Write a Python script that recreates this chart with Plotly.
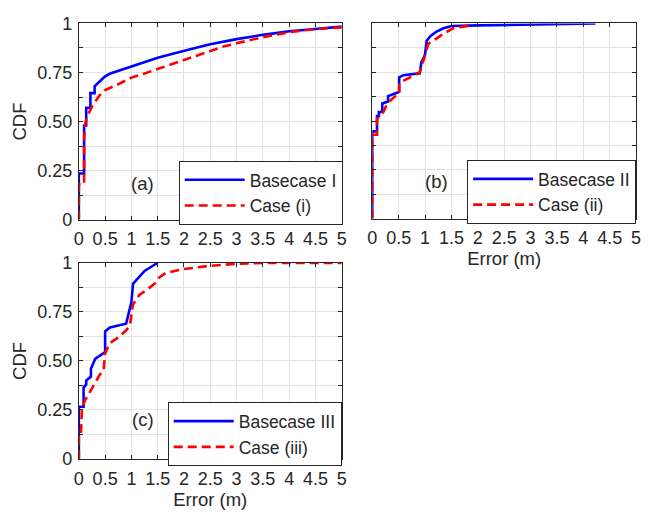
import plotly.graph_objects as go

# ---- CDF curves (error in metres, cumulative probability) ----
# (a) Basecase I vs Case (i)
a_base_x = [0, 0, 0.1, 0.1, 0.14, 0.14, 0.22, 0.22, 0.3, 0.3, 0.4, 0.5, 0.6, 0.75, 1.0,
            1.25, 1.5, 1.75, 2.0, 2.25, 2.5, 2.75, 3.0, 3.5, 4.0, 4.5, 5.0]
a_base_y = [0, 0.235, 0.235, 0.48, 0.48, 0.57, 0.57, 0.645, 0.645, 0.68, 0.705, 0.73, 0.745,
            0.758, 0.782, 0.803, 0.825, 0.843, 0.862, 0.878, 0.894, 0.907, 0.92, 0.942,
            0.96, 0.972, 0.984]
a_case_x = [0, 0, 0.1, 0.1, 0.13, 0.15, 0.2, 0.28, 0.4, 0.5, 0.75, 1.0, 1.25, 1.5, 1.75,
            2.0, 2.25, 2.5, 2.75, 3.0, 3.5, 4.0, 4.5, 5.0]
a_case_y = [0, 0.18, 0.18, 0.42, 0.5, 0.52, 0.55, 0.59, 0.635, 0.66, 0.69, 0.724, 0.745,
            0.768, 0.79, 0.812, 0.838, 0.861, 0.882, 0.899, 0.93, 0.955, 0.972, 0.98]

# (b) Basecase II vs Case (ii)
b_base_x = [0, 0, 0.09, 0.09, 0.125, 0.125, 0.19, 0.19, 0.3, 0.3, 0.47, 0.51, 0.51, 0.59,
            0.9, 0.93, 1.0, 1.03, 1.1, 1.21, 1.35, 1.5, 2.0, 3.0, 4.23]
b_base_y = [0, 0.447, 0.447, 0.526, 0.526, 0.546, 0.546, 0.59, 0.6, 0.628, 0.645, 0.65,
            0.724, 0.735, 0.745, 0.80, 0.84, 0.91, 0.935, 0.957, 0.975, 0.987, 0.99,
            0.996, 1.0]
b_case_x = [0, 0, 0.09, 0.09, 0.22, 0.28, 0.47, 0.51, 0.51, 0.7, 0.9, 0.97, 1.06, 1.2,
            1.31, 1.53, 1.87]
b_case_y = [0, 0.43, 0.43, 0.51, 0.55, 0.59, 0.635, 0.64, 0.695, 0.72, 0.75, 0.81, 0.895,
            0.92, 0.94, 0.975, 0.99]

# (c) Basecase III vs Case (iii)
c_base_x = [0, 0, 0.09, 0.09, 0.14, 0.14, 0.23, 0.23, 0.31, 0.4, 0.5, 0.5, 0.59, 0.9,
            0.95, 1.0, 1.03, 1.15, 1.25, 1.4, 1.5]
c_base_y = [0, 0.266, 0.266, 0.364, 0.38, 0.40, 0.42, 0.46, 0.51, 0.525, 0.545, 0.65,
            0.67, 0.69, 0.754, 0.80, 0.893, 0.926, 0.959, 0.984, 1.0]
c_case_x = [0, 0, 0.04, 0.06, 0.12, 0.2, 0.31, 0.4, 0.47, 0.5, 0.59, 0.75, 0.9, 0.97,
            1.03, 1.15, 1.28, 1.47, 1.53, 1.65, 1.96, 2.46, 3.0, 3.6, 5.0]
c_case_y = [0, 0.13, 0.13, 0.26, 0.30, 0.336, 0.39, 0.43, 0.45, 0.54, 0.59, 0.62, 0.656,
            0.68, 0.787, 0.836, 0.86, 0.90, 0.926, 0.948, 0.967, 0.984, 0.995, 1.0, 1.0]

x_ticks = [0, 0.5, 1, 1.5, 2, 2.5, 3, 3.5, 4, 4.5, 5]
x_tick_text = ["0", "0.5", "1", "1.5", "2", "2.5", "3", "3.5", "4", "4.5", "5"]
y_ticks = [0, 0.125, 0.25, 0.375, 0.5, 0.625, 0.75, 0.875, 1]
y_tick_text = ["0", "", "0.25", "", "0.50", "", "0.75", "", "1"]

BLUE = "#0000ff"
RED = "#ff0000"
AX = "#262626"
FONT = "Liberation Sans, Arial, sans-serif"

W, H = 649, 518


def px_x(p):
    return p / W


def px_y(p):
    return 1 - p / H


fig = go.Figure()

panels = [
    ("", a_base_x, a_base_y, a_case_x, a_case_y, "Basecase I", "Case (i)", "legend"),
    ("2", b_base_x, b_base_y, b_case_x, b_case_y, "Basecase II", "Case (ii)", "legend2"),
    ("3", c_base_x, c_base_y, c_case_x, c_case_y, "Basecase III", "Case (iii)", "legend3"),
]

for s, bx, by, cx, cy, bname, cname, leg in panels:
    fig.add_trace(go.Scatter(x=bx, y=by, mode="lines", name=bname, legend=leg,
                             xaxis="x" + s, yaxis="y" + s,
                             line=dict(color=BLUE, width=2.6)))
    fig.add_trace(go.Scatter(x=cx, y=cy, mode="lines", name=cname, legend=leg,
                             xaxis="x" + s, yaxis="y" + s,
                             line=dict(color=RED, width=2.6, dash="9px,5px")))

axis_common = dict(
    showline=True, linecolor=AX, linewidth=1, mirror="ticks",
    ticks="inside", ticklen=4, tickcolor=AX, tickwidth=1,
    showgrid=True, gridcolor="#e3e3e3", gridwidth=1, zeroline=False,
    tickfont=dict(family=FONT, size=18, color=AX),
    fixedrange=True,
)

# plot-area positions (pixels)
dom_a = dict(x=(75, 342), y=(14, 218))
dom_b = dict(x=(373, 641), y=(14, 217))
dom_c = dict(x=(75, 342), y=(263, 467))


def xdom(d):
    return [px_x(d["x"][0]), px_x(d["x"][1])]


def ydom(d):
    return [px_y(d["y"][1]), px_y(d["y"][0])]


title_font = dict(family=FONT, size=18.5, color=AX)
xaxis_extra = dict(range=[0, 5], tickvals=x_ticks, ticktext=x_tick_text, ticklabelstandoff=3)
yaxis_extra = dict(range=[0, 1], tickvals=y_ticks, ticklabelstandoff=2)

fig.update_layout(
    width=W, height=H,
    margin=dict(l=0, r=0, t=0, b=0),
    paper_bgcolor="white", plot_bgcolor="white",
    font=dict(family=FONT, color=AX),
    xaxis=dict(axis_common, **xaxis_extra, domain=xdom(dom_a), anchor="y"),
    yaxis=dict(axis_common, **yaxis_extra, domain=ydom(dom_a), anchor="x",
               ticktext=y_tick_text,
               title=dict(text="CDF", font=title_font, standoff=5)),
    xaxis2=dict(axis_common, **xaxis_extra, domain=xdom(dom_b), anchor="y2",
                title=dict(text="Error (m)", font=title_font, standoff=2)),
    yaxis2=dict(axis_common, **yaxis_extra, domain=ydom(dom_b), anchor="x2",
                ticktext=[""] * len(y_ticks)),
    xaxis3=dict(axis_common, **xaxis_extra, domain=xdom(dom_c), anchor="y3",
                title=dict(text="Error (m)", font=title_font, standoff=2)),
    yaxis3=dict(axis_common, **yaxis_extra, domain=ydom(dom_c), anchor="x3",
                ticktext=y_tick_text,
                title=dict(text="CDF", font=title_font, standoff=5)),
)

legend_common = dict(
    bgcolor="white", bordercolor=AX, borderwidth=1,
    font=dict(family=FONT, size=17.5, color=AX),
    xanchor="right", yanchor="top", itemwidth=60, tracegroupgap=0,
    itemclick=False, itemdoubleclick=False,
)
fig.update_layout(
    legend=dict(legend_common, x=px_x(343), y=px_y(157)),
    legend2=dict(legend_common, x=px_x(641), y=px_y(156)),
    legend3=dict(legend_common, x=px_x(342), y=px_y(408)),
)

for label, (cxp, cyp) in [("(a)", (140, 180)), ("(b)", (438, 178)), ("(c)", (140, 426))]:
    fig.add_annotation(text=label, x=px_x(cxp), y=px_y(cyp), xref="paper", yref="paper",
                       showarrow=False, xanchor="center", yanchor="middle",
                       font=dict(family=FONT, size=18.5, color=AX))

fig.write_html("out.html", config={"displayModeBar": False})
